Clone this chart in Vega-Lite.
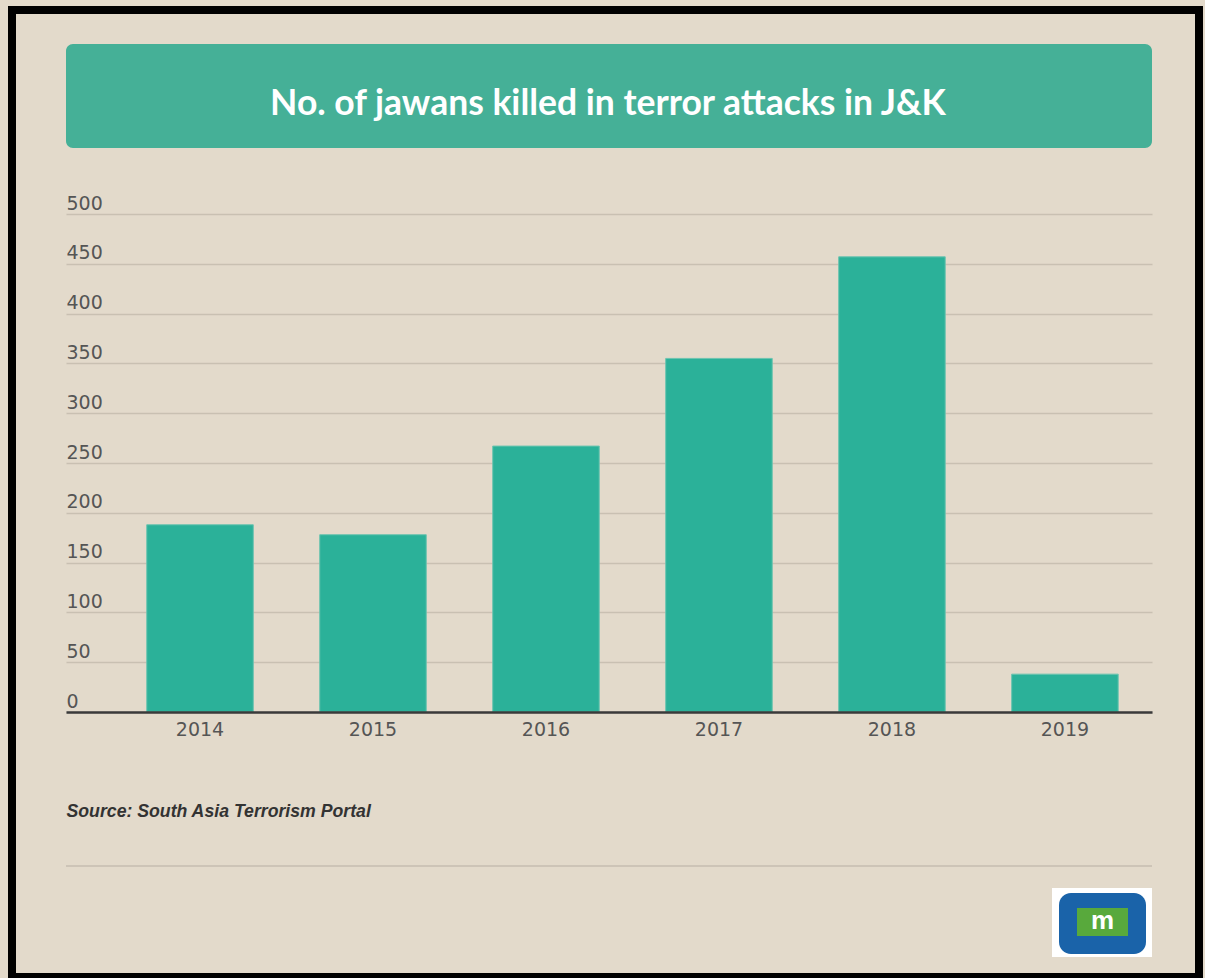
{
  "$schema": "https://vega.github.io/schema/vega-lite/v6.json",
  "background": "#e3dacb",
  "padding": {"left": 8, "top": 6, "right": 2, "bottom": 0},
  "config": {"view": {"stroke": null}, "font": "DejaVu Sans"},
  "bounds": "flush",
  "spacing": 66,
  "vconcat": [
    {
      "width": 1086,
      "height": 104,
      "view": {"fill": "#45b097", "cornerRadius": 7, "stroke": null},
      "data": {"values": [{"title": "No. of jawans killed in terror attacks in J&K"}]},
      "mark": {"type": "text", "font": "Lato", "fontWeight": "bold", "fontSize": 35.5, "color": "#ffffff", "baseline": "alphabetic", "align": "center", "dy": 19, "dx": -1},
      "encoding": {"text": {"field": "title", "type": "nominal"}}
    },
    {
      "width": 1086,
      "height": 498,
      "layer": [
        {
          "data": {"values": [
            {"year": "2014", "jawans": 188},
            {"year": "2015", "jawans": 178},
            {"year": "2016", "jawans": 267},
            {"year": "2017", "jawans": 355},
            {"year": "2018", "jawans": 457},
            {"year": "2019", "jawans": 38}
          ]},
          "mark": {"type": "bar", "color": "#2bb199", "stroke": "#6cc4b0", "strokeWidth": 1},
          "encoding": {
            "x": {
              "field": "year", "type": "nominal", "sort": null,
              "scale": {"paddingInner": 0.384, "paddingOuter": 0.331, "align": 0.705},
              "axis": {
                "labelAngle": 0, "domainColor": "#3a3a3a", "domainWidth": 2.5, "ticks": false, "tickSize": 0,
                "labelFontSize": 19, "labelColor": "#555555", "labelPadding": 8, "labelFont": "DejaVu Sans",
                "grid": false, "zindex": 1,
                "title": "Source: South Asia Terrorism Portal", "titleAnchor": "start", "titleAlign": "left",
                "titleFont": "Liberation Sans", "titleFontStyle": "italic", "titleFontWeight": "bold",
                "titleFontSize": 17.7, "titleColor": "#333333", "titlePadding": 63
              }
            },
            "y": {
              "field": "jawans", "type": "quantitative",
              "scale": {"domain": [0, 500], "nice": false},
              "axis": {
                "values": [0, 50, 100, 150, 200, 250, 300, 350, 400, 450, 500],
                "title": null, "domain": false, "ticks": false, "tickSize": 0,
                "grid": true, "gridColor": "#c9c0b2", "gridWidth": 1.5, "zindex": 0,
                "labelAlign": "left", "labelBaseline": "alphabetic", "labelPadding": 0, "labelOffset": -5,
                "labelFontSize": 19, "labelColor": "#555555", "labelFont": "DejaVu Sans"
              }
            }
          }
        },
        {
          "data": {"values": [{}]},
          "mark": {"type": "rect", "filled": false, "stroke": "#000000", "strokeWidth": 8},
          "encoding": {"x": {"value": -54}, "x2": {"value": 1133}, "y": {"value": -204}, "y2": {"value": 763}}
        },
        {
          "data": {"values": [{}]},
          "mark": {"type": "rule", "color": "#c6bdb0", "strokeWidth": 1.5},
          "encoding": {"x": {"value": 0}, "x2": {"value": 1086}, "y": {"value": 652}}
        },
        {
          "data": {"values": [{}]},
          "mark": {"type": "rect", "color": "#ffffff"},
          "encoding": {"x": {"value": 986}, "x2": {"value": 1086}, "y": {"value": 674}, "y2": {"value": 743}}
        },
        {
          "data": {"values": [{}]},
          "mark": {"type": "rect", "color": "#1a63a9", "cornerRadius": 12},
          "encoding": {"x": {"value": 993}, "x2": {"value": 1080}, "y": {"value": 679}, "y2": {"value": 740}}
        },
        {
          "data": {"values": [{}]},
          "mark": {"type": "rect", "color": "#58a93c"},
          "encoding": {"x": {"value": 1011}, "x2": {"value": 1062}, "y": {"value": 694}, "y2": {"value": 722}}
        },
        {
          "data": {"values": [{}]},
          "mark": {"type": "text", "text": "m", "font": "Liberation Sans", "fontWeight": "bold", "fontSize": 26, "color": "#ffffff", "align": "center", "baseline": "alphabetic"},
          "encoding": {"x": {"value": 1036.5}, "y": {"value": 715}}
        }
      ]
    }
  ]
}
